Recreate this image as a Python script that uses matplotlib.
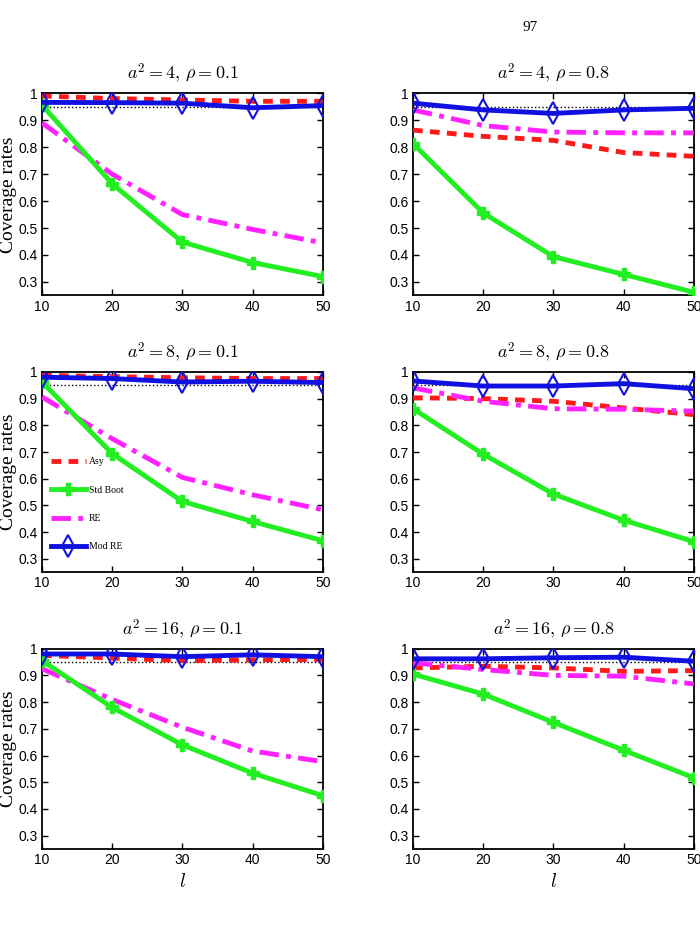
import matplotlib
matplotlib.use("Agg")
import matplotlib.pyplot as plt

plt.rcParams['mathtext.fontset'] = 'cm'
plt.rcParams['font.family'] = ['Liberation Sans', 'DejaVu Sans']

# sample sizes on the x axis
block_sizes = [10, 20, 30, 40, 50]
x_ticks = [10, 20, 30, 40, 50]
y_ticks = [0.3, 0.4, 0.5, 0.6, 0.7, 0.8, 0.9, 1.0]
y_ticklabels = ['0.3', '0.4', '0.5', '0.6', '0.7', '0.8', '0.9', '1']
nominal_level = 0.95

panel_titles = [r'$a^2 = 4,\, \rho = 0.1$', r'$a^2 = 4,\, \rho = 0.8$',
                r'$a^2 = 8,\, \rho = 0.1$', r'$a^2 = 8,\, \rho = 0.8$',
                r'$a^2 = 16,\, \rho = 0.1$', r'$a^2 = 16,\, \rho = 0.8$']

# coverage rates, one list per panel
asy = [
    [0.99, 0.98, 0.975, 0.97, 0.97],
    [0.863, 0.84, 0.825, 0.78, 0.766],
    [0.987, 0.982, 0.978, 0.975, 0.975],
    [0.903, 0.90, 0.89, 0.865, 0.84],
    [0.975, 0.965, 0.955, 0.958, 0.96],
    [0.928, 0.934, 0.928, 0.915, 0.918],
]
std_boot = [
    [0.956, 0.664, 0.448, 0.372, 0.32],
    [0.813, 0.556, 0.394, 0.328, 0.262],
    [0.962, 0.694, 0.515, 0.44, 0.368],
    [0.862, 0.692, 0.543, 0.445, 0.365],
    [0.955, 0.78, 0.64, 0.534, 0.45],
    [0.905, 0.83, 0.724, 0.62, 0.517],
]
re = [
    [0.89, 0.70, 0.55, 0.495, 0.445],
    [0.938, 0.88, 0.856, 0.853, 0.853],
    [0.906, 0.75, 0.605, 0.54, 0.484],
    [0.94, 0.89, 0.862, 0.86, 0.853],
    [0.925, 0.81, 0.706, 0.617, 0.577],
    [0.947, 0.922, 0.90, 0.897, 0.868],
]
mod_re = [
    [0.966, 0.965, 0.963, 0.946, 0.954],
    [0.963, 0.938, 0.925, 0.938, 0.944],
    [0.98, 0.975, 0.962, 0.965, 0.96],
    [0.966, 0.947, 0.947, 0.956, 0.937],
    [0.98, 0.98, 0.97, 0.977, 0.97],
    [0.962, 0.962, 0.966, 0.968, 0.953],
]

fig = plt.figure(figsize=(7, 9.32), dpi=100)

lefts = [0.06, 0.59]
rows = [(0.683, 0.900), (0.386, 0.601), (0.089, 0.304)]
width = 0.401

fig.text(0.757, 0.970, '97', fontsize=11, family='Liberation Serif', ha='center', va='center')

for i in range(6):
    r, c = divmod(i, 2)
    bottom, top = rows[r]
    ax = fig.add_axes([lefts[c], bottom, width, top - bottom])

    ax.axhline(nominal_level, color='black', ls=':', lw=1.0, zorder=1)
    ax.plot(block_sizes, asy[i], color='#ff1a1a', ls='--', lw=3.5, dashes=(2.0, 1.5), label='Asy', zorder=3)
    ax.plot(block_sizes, std_boot[i], color='#22ee22', ls='-', lw=3.5, marker='P', ms=8,
            mec='#22ee22', label='Std Boot', zorder=4)
    ax.plot(block_sizes, re[i], color='#ff22ff', ls='-.', lw=3.5, dashes=(4, 1.5, 1, 1.5), label='RE', zorder=3)
    ax.plot(block_sizes, mod_re[i], color='#1010e0', ls='-', lw=3.5, marker='d', ms=11, mew=1.5,
            mfc='none', mec='#1010e0', label='Mod RE', zorder=5)

    ax.set_xlim(10, 50)
    ax.set_ylim(0.25, 1.0)
    ax.set_xticks(x_ticks)
    ax.set_yticks(y_ticks)
    ax.set_yticklabels(y_ticklabels)
    ax.tick_params(direction='in', top=True, right=True, labelsize=10, length=4, width=1, pad=3)
    for s in ax.spines.values():
        s.set_linewidth(1.3)
    ax.set_title(panel_titles[i], fontsize=13, pad=10)

    if c == 0:
        ax.set_ylabel('Coverage rates', fontsize=14, family='Liberation Serif', labelpad=1)
    if r == 2:
        ax.set_xlabel(r'$l$', fontsize=14, labelpad=4)
    if i == 2:
        ax.legend(loc='lower left', bbox_to_anchor=(0.0, 0.06), frameon=False,
                  handlelength=3.6, labelspacing=2.0, handletextpad=0.3,
                  prop={'family': 'Liberation Serif', 'size': 7})

fig.savefig('out.png', dpi=100)
